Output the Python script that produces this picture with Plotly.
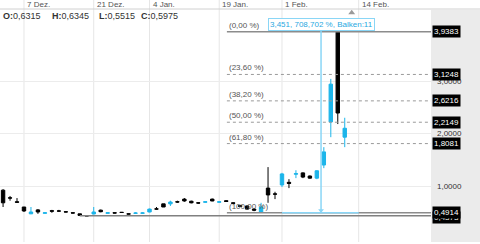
import plotly.graph_objects as go

# ---- data ----
idx = list(range(50))
open_ = [0.92, 0.775, 0.70, 0.60, 0.47, 0.545, 0.48, 0.53, 0.525, 0.51,
         0.49, 0.47, 0.435, 0.467, 0.54, 0.48, 0.49, 0.50, 0.47, 0.48,
         0.48, 0.505, 0.565, 0.66, 0.66, 0.70, 0.75, 0.71, 0.68, 0.69,
         0.75, 0.69, 0.72, 0.68, 0.63, 0.62, 0.56, 0.505, 0.96, 0.85,
         1.02, 1.07, 1.225, 1.25, 1.19, 1.15, 1.40, 2.22, 3.9383, 1.93]
high = [0.94, 0.81, 0.77, 0.60, 0.60, 0.56, 0.495, 0.545, 0.545, 0.515,
        0.495, 0.47, 0.44, 0.60, 0.55, 0.495, 0.495, 0.505, 0.475, 0.50,
        0.50, 0.57, 0.60, 0.66, 0.72, 0.72, 0.77, 0.72, 0.69, 0.70,
        0.76, 0.705, 0.73, 0.69, 0.64, 0.63, 0.58, 0.68, 1.36, 0.89,
        1.25, 1.13, 1.30, 1.26, 1.20, 1.30, 1.74, 3.04, 3.9383, 2.30]
low = [0.60, 0.72, 0.68, 0.505, 0.465, 0.47, 0.475, 0.49, 0.505, 0.50,
       0.48, 0.435, 0.43, 0.46, 0.50, 0.475, 0.48, 0.49, 0.46, 0.47,
       0.47, 0.50, 0.55, 0.60, 0.62, 0.68, 0.70, 0.67, 0.66, 0.68,
       0.71, 0.68, 0.70, 0.66, 0.60, 0.55, 0.52, 0.4914, 0.68, 0.75,
       0.98, 0.96, 1.15, 1.15, 1.14, 1.13, 1.34, 1.93, 2.18, 1.74]
close = [0.68, 0.77, 0.69, 0.525, 0.505, 0.505, 0.49, 0.52, 0.522, 0.505,
         0.485, 0.44, 0.43, 0.505, 0.51, 0.49, 0.485, 0.495, 0.465, 0.485,
         0.487, 0.56, 0.56, 0.60, 0.695, 0.695, 0.715, 0.68, 0.675, 0.70,
         0.715, 0.70, 0.705, 0.67, 0.61, 0.56, 0.54, 0.60, 0.83, 0.845,
         1.23, 1.05, 1.235, 1.17, 1.15, 1.29, 1.65, 2.94, 2.39, 2.10]

tick_pos = [3, 13, 21, 31, 40, 51]
tick_text = ["7 Dez.", "21 Dez.", "4 Jan.", "19 Jan.", "1 Feb.", "14 Feb."]

y_ticks = [1.0, 2.0, 3.0]
y_tick_text = ["1,0000", "2,0000", "3,0000"]

fib_pct = ["(0,00 %)", "(23,60 %)", "(38,20 %)", "(50,00 %)", "(61,80 %)", "(100,00 %)"]
fib_val = [3.9383, 3.1248, 2.6216, 2.2149, 1.8081, 0.4914]
fib_tag = ["3,9383", "3,1248", "2,6216", "2,2149", "1,8081", "0,4914"]
fib_start = 32.1

low_line_val = 0.435
low_line_tag = "0,4373"
low_line_start = 11

meas_x = 45.6
meas_top = 3.974
meas_base = 0.4914
meas_x0, meas_x1 = 40, 51
meas_text = "3,451, 708,702 %, Balken:11"

ohlc_labels = ["O:", "H:", "L:", "C:"]
ohlc_values = ["0,6315", "0,6345", "0,5515", "0,5975"]
ohlc_px = [1, 50, 97, 139]

BLUE = "#1cb5ea"
MEAS = "#8ad6f6"

fig = go.Figure()
fig.add_trace(go.Candlestick(
    x=idx, open=open_, high=high, low=low, close=close,
    increasing=dict(line=dict(color=BLUE, width=1), fillcolor=BLUE),
    decreasing=dict(line=dict(color="#000000", width=1), fillcolor="#000000"),
    whiskerwidth=0, showlegend=False, hoverinfo="skip"))

# measurement arrowheads
fig.add_trace(go.Scatter(x=[meas_x, meas_x], y=[meas_top, meas_base + 0.04], mode="markers",
                         marker=dict(symbol=["triangle-up", "triangle-down"], size=5, color=MEAS),
                         showlegend=False, hoverinfo="skip"))
# small icon in header
fig.add_trace(go.Scatter(x=[50.0], y=[4.30], mode="markers",
                         marker=dict(symbol="triangle-up", size=6, color="#9a9a9a"),
                         showlegend=False, hoverinfo="skip"))

X0, X1 = -0.44, 61.37
Y0, Y1 = -0.0667, 4.543
PW, PH = 431, 242

shapes = []
# right grey panel
shapes.append(dict(type="rect", xref="paper", yref="paper", x0=1, x1=480 / PW,
                   y0=0, y1=1 - 10 / PH, fillcolor="#ebebeb", line=dict(width=0), layer="below"))
# vertical gridlines extending into header
for p in tick_pos:
    shapes.append(dict(type="line", xref="x", yref="paper", x0=p, x1=p, y0=0, y1=1,
                       line=dict(color="#e6e6e6", width=1), layer="below"))
# header separator
shapes.append(dict(type="line", xref="paper", yref="paper", x0=0, x1=480 / PW,
                   y0=1 - 9 / PH, y1=1 - 9 / PH, line=dict(color="#d0d0d0", width=1)))
# low line
shapes.append(dict(type="line", xref="x", yref="y", x0=low_line_start, x1=X1,
                   y0=low_line_val, y1=low_line_val, line=dict(color="#808080", width=1.5)))
# fib lines
for i, v in enumerate(fib_val):
    dotted = i not in (0, len(fib_val) - 1)
    shapes.append(dict(type="line", xref="x", yref="y", x0=fib_start, x1=X1, y0=v, y1=v,
                       line=dict(color="#8c8c8c" if not dotted else "#9a9a9a",
                                 width=1.5 if not dotted else 1,
                                 dash="dot" if dotted else "solid")))
# measurement lines
shapes.append(dict(type="line", xref="x", yref="y", x0=meas_x0, x1=meas_x1,
                   y0=meas_base, y1=meas_base, line=dict(color=MEAS, width=1.5)))
shapes.append(dict(type="line", xref="x", yref="y", x0=meas_x, x1=meas_x,
                   y0=meas_base, y1=meas_top, line=dict(color=MEAS, width=1.5)))

ann = []
for p, t in zip(tick_pos, tick_text):
    ann.append(dict(x=p, y=1 - 4.5 / PH, xref="x", yref="paper", text=t, showarrow=False,
                    xanchor="left", yanchor="middle", xshift=1,
                    font=dict(size=8, color="#555555", family="Arial")))
for lab, val, px in zip(ohlc_labels, ohlc_values, ohlc_px):
    ann.append(dict(x=px / PW, y=1 - 16 / PH, xref="paper", yref="paper",
                    text="<b>" + lab + "</b>" + val, showarrow=False,
                    xanchor="left", yanchor="middle",
                    font=dict(size=9, color="#333333", family="Arial")))
for t, v in zip(fib_pct, fib_val):
    ann.append(dict(x=fib_start, y=v, xref="x", yref="y", text=t, showarrow=False,
                    xanchor="left", yanchor="bottom", xshift=0, yshift=0,
                    font=dict(size=8, color="#555555", family="Arial")))
# right tags
ann.append(dict(x=1, y=low_line_val, xref="paper", yref="y", text=low_line_tag, showarrow=False,
                xanchor="left", yanchor="middle", xshift=1, yshift=-2, bgcolor="#000000",
                borderpad=1, font=dict(size=8, color="#ffffff", family="Arial")))
for t, v in zip(fib_tag, fib_val):
    ann.append(dict(x=1, y=v, xref="paper", yref="y", text=t, showarrow=False,
                    xanchor="left", yanchor="middle", xshift=1, bgcolor="#000000",
                    borderpad=1, font=dict(size=8, color="#ffffff", family="Arial")))
# measurement label
ann.append(dict(x=meas_x, y=4.067, xref="x", yref="y", text=meas_text, showarrow=False,
                xanchor="center", yanchor="middle", bgcolor="#ffffff", bordercolor=MEAS,
                borderwidth=1, borderpad=1, font=dict(size=8, color="#29a8df", family="Arial")))

fig.update_layout(
    width=480, height=244, margin=dict(l=0, r=49, t=0, b=2),
    paper_bgcolor="#ffffff", plot_bgcolor="#ffffff",
    shapes=shapes, annotations=ann, showlegend=False,
    xaxis=dict(range=[X0, X1], showgrid=False, zeroline=False, showticklabels=False,
               rangeslider=dict(visible=False), fixedrange=True),
    yaxis=dict(range=[Y0, Y1], side="right", tickvals=y_ticks, ticktext=y_tick_text,
               showgrid=True, gridcolor="#ececec", gridwidth=1, zeroline=False,
               ticks="", ticklabelstandoff=5,
               tickfont=dict(size=8, color="#333333", family="Arial")),
)

fig.write_html("out.html")
